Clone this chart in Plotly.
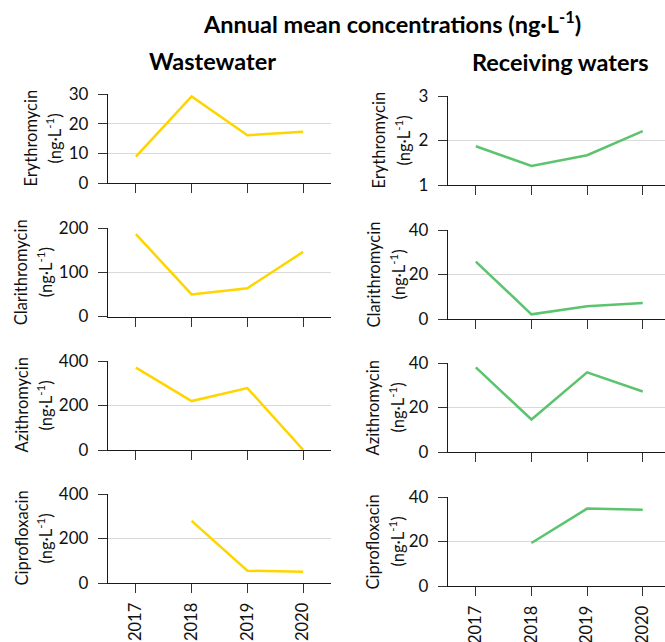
import plotly.graph_objects as go

# ---------------- data ----------------
years = ["2017", "2018", "2019", "2020"]
compounds = ["Erythromycin", "Clarithromycin", "Azithromycin", "Ciprofloxacin"]
unit_label = "(ng·L<sup>-1</sup>)"

ww_erythromycin = [8.9, 29.2, 16.1, 17.3]
ww_clarithromycin = [186, 50, 64, 146]
ww_azithromycin = [370, 220, 278, 1]
ww_ciprofloxacin = [None, 279, 55, 51]

rw_erythromycin = [1.87, 1.43, 1.67, 2.21]
rw_clarithromycin = [25.8, 2.1, 5.7, 7.2]
rw_azithromycin = [38.0, 14.6, 35.8, 27.2]
rw_ciprofloxacin = [None, 19.3, 34.8, 34.3]

ww_series = [ww_erythromycin, ww_clarithromycin, ww_azithromycin, ww_ciprofloxacin]
rw_series = [rw_erythromycin, rw_clarithromycin, rw_azithromycin, rw_ciprofloxacin]

ww_ranges = [[0, 30], [0, 200], [0, 400], [0, 400]]
ww_dticks = [10, 100, 200, 200]
rw_ranges = [[1, 3], [0, 40], [0, 40], [0, 40]]
rw_dticks = [1, 20, 20, 20]

# ---------------- layout helpers ----------------
W, H = 665, 642
FONT = "Lato, 'Open Sans', sans-serif"
YELLOW = "#FFD500"
GREEN = "#5CC36E"
GRID = "#D9D9D9"
AXIS = "#1a1a1a"
TXT = "#111111"

# pixel boxes (left, right, top, bottom)
left_x = (108, 331)
right_x = (448, 665)
left_rows = [(94, 183), (228, 316.5), (361, 450), (494, 583)]
right_rows = [(96, 185), (230, 319), (363, 452), (497, 586)]
# y-title line centres (name, unit) in pixels
left_title_x = [(30, 54), (21, 45), (21, 45), (21, 45)]
right_title_x = [(378, 403), (373, 398), (372, 397), (372, 397)]


def xd(a, b):
    return [a / W, min(b / W, 1.0)]


def yd(top, bottom):
    return [1 - bottom / H, 1 - top / H]


fig = go.Figure()
layout = {}
annotations = []

panels = []
for i in range(4):
    panels.append((i, ww_series[i], YELLOW, left_x, left_rows[i], ww_ranges[i], ww_dticks[i], [-0.5, 3.5], left_title_x[i]))
for i in range(4):
    panels.append((i, rw_series[i], GREEN, right_x, right_rows[i], rw_ranges[i], rw_dticks[i], [-0.5, 3.4], right_title_x[i]))

for k, (i, vals, color, xpx, ypx, yr, dt, xr, tx) in enumerate(panels):
    n = k + 1
    xname = "x" if n == 1 else f"x{n}"
    yname = "y" if n == 1 else f"y{n}"
    fig.add_trace(go.Scatter(
        x=years, y=vals, mode="lines",
        line=dict(color=color, width=2.5),
        xaxis=xname, yaxis=yname, showlegend=False,
        hoverinfo="x+y",
    ))
    bottom = (i == 3)
    layout["xaxis" if n == 1 else f"xaxis{n}"] = dict(
        domain=xd(*xpx), anchor=yname, type="category",
        categoryorder="array", categoryarray=years,
        range=xr, showgrid=False, zeroline=False,
        showline=True, linecolor=AXIS, linewidth=1.3,
        ticks="outside", ticklen=9, tickwidth=1.3, tickcolor="#333333",
        showticklabels=bottom, tickangle=-90,
        tickfont=dict(family=FONT, size=16.5, color=TXT),
        ticklabelstandoff=3,
        automargin=False,
        fixedrange=True,
    )
    layout["yaxis" if n == 1 else f"yaxis{n}"] = dict(
        domain=yd(*ypx), anchor=xname, range=yr, dtick=dt, tick0=yr[0],
        showgrid=True, gridcolor=GRID, gridwidth=1.2, zeroline=False,
        showline=True, linecolor=AXIS, linewidth=1.3,
        ticks="outside", ticklen=9, tickwidth=1.3, tickcolor="#333333",
        tickfont=dict(family=FONT, size=17, color=TXT),
        ticklabelstandoff=6,
        automargin=False,
        fixedrange=True,
    )
    ycen = 1 - ((ypx[0] + ypx[1]) / 2) / H
    annotations.append(dict(
        text=compounds[i], x=tx[0] / W, y=ycen, xref="paper", yref="paper",
        showarrow=False, textangle=-90, xanchor="center", yanchor="middle",
        font=dict(family=FONT, size=16.5, color=TXT)))
    annotations.append(dict(
        text=unit_label, x=tx[1] / W, y=ycen, xref="paper", yref="paper",
        showarrow=False, textangle=-90, xanchor="center", yanchor="middle",
        font=dict(family=FONT, size=16.5, color=TXT)))

annotations += [
    dict(text="<b>Annual mean concentrations (ng·L<sup>-1</sup>)</b>",
         x=392 / W, y=1 - 23 / H, xref="paper", yref="paper",
         showarrow=False, xanchor="center", yanchor="middle",
         font=dict(family=FONT, size=23.5, color="#000000")),
    dict(text="<b>Wastewater</b>",
         x=212 / W, y=1 - 61 / H, xref="paper", yref="paper",
         showarrow=False, xanchor="center", yanchor="middle",
         font=dict(family=FONT, size=23.5, color="#000000")),
    dict(text="<b>Receiving waters</b>",
         x=560 / W, y=1 - 62 / H, xref="paper", yref="paper",
         showarrow=False, xanchor="center", yanchor="middle",
         font=dict(family=FONT, size=23.5, color="#000000")),
]

fig.update_layout(
    width=W, height=H,
    margin=dict(l=0, r=0, t=0, b=0, autoexpand=False),
    paper_bgcolor="white", plot_bgcolor="white",
    font=dict(family=FONT, size=16, color=TXT),
    annotations=annotations,
    **layout,
)

fig.write_html(
    "out.html",
    config={"displayModeBar": False},
    post_script="document.body.style.margin='0';document.body.style.overflow='hidden';",
)
